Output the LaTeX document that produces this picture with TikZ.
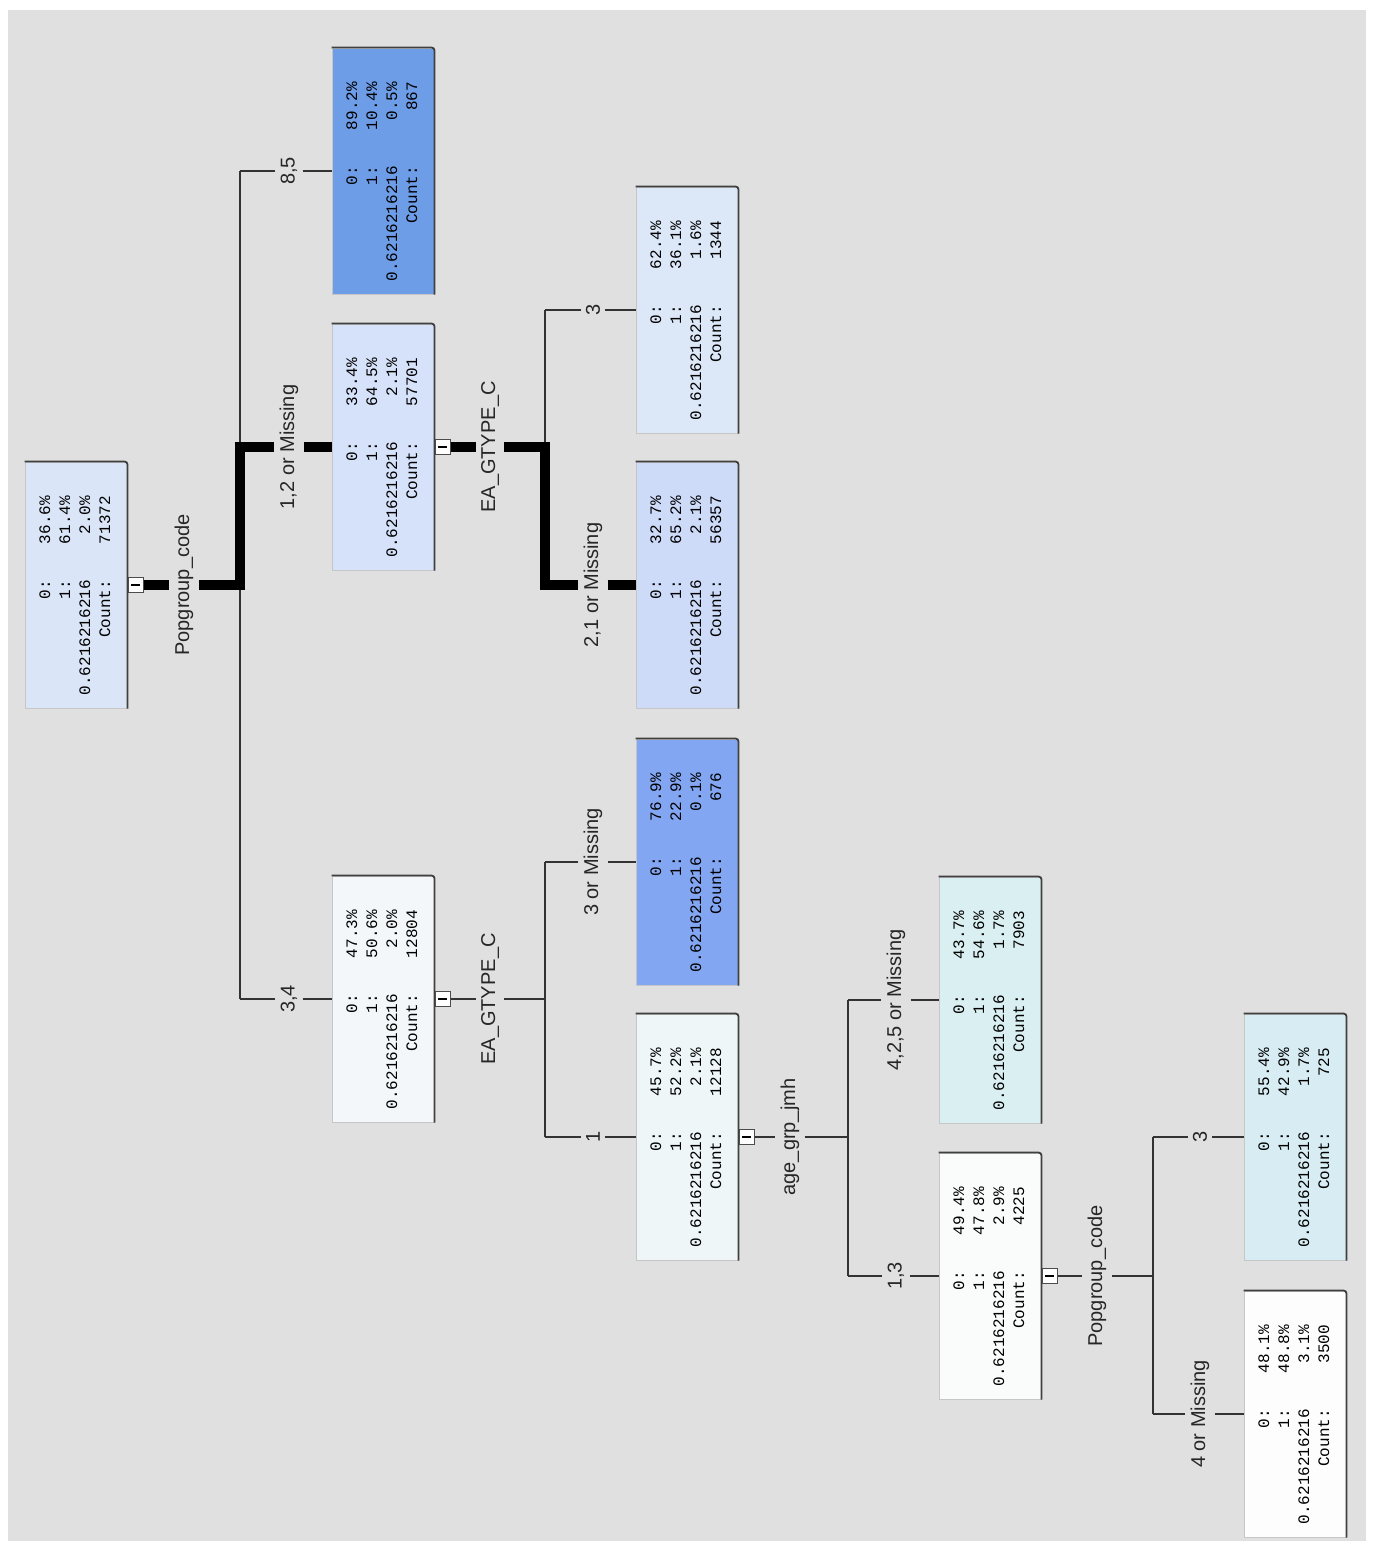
\documentclass[tikz,border=0pt]{standalone}
\usepackage{fontspec}
\setmainfont{Liberation Sans}
\setmonofont{Liberation Mono}
\usepackage{array}
\newcolumntype{R}[1]{>{\raggedleft\arraybackslash}p{#1}}
\definecolor{bg}{HTML}{E0E0E0}
\definecolor{cRoot}{HTML}{DAE5F7}
\definecolor{cA}{HTML}{6E9DE8}
\definecolor{cB}{HTML}{D6E2F9}
\definecolor{cC}{HTML}{F3F7F9}
\definecolor{cD}{HTML}{DCE7F8}
\definecolor{cE}{HTML}{CDDAF8}
\definecolor{cF}{HTML}{83A6F2}
\definecolor{cG}{HTML}{EEF6F7}
\definecolor{cH}{HTML}{DAEFF2}
\definecolor{cI}{HTML}{FAFCFC}
\definecolor{cJ}{HTML}{D7EDF3}
\definecolor{cK}{HTML}{FDFDFD}
\newcommand{\stattab}[4]{\fontsize{8}{10}\selectfont\ttfamily\begin{tabular}{@{}R{64pt}@{}R{42pt}@{\hspace{17pt}}}0:&#1\\1:&#2\\0.6216216216&#3\\Count:&#4\end{tabular}}
\tikzset{
  statbox/.style={rotate=90, draw=gray!45, line width=0.5pt, inner sep=0pt,
    minimum width=123pt, minimum height=51pt, fill=#1},
  expander/.style={draw=black!70, fill=white, minimum size=7.5pt, inner sep=0pt, line width=0.6pt},
  minusbar/.style={draw=black, line width=0.7pt},
  splitlab/.style={rotate=90, font=\fontsize{10}{12}\selectfont, inner sep=2.5pt, text=black!85},
  conn/.style={draw=black!80, line width=1pt},
  hot/.style={draw=black, line width=5pt},
  shade/.style={draw=black!75, line width=0.9pt, rounded corners=1.5pt}
}
\newcommand{\statnode}[8]{%
  \node[statbox=#4] (#1) at (#2,#3) {\stattab{#5}{#6}{#7}{#8}};
  \draw[shade] (#1.north east) -- (#1.south east) -- (#1.south west);}
\newcommand{\expnode}[2]{%
  \node[expander, anchor=west] (#1) at (#2.south) {};
  \draw[minusbar] ([xshift=1.7pt]#1.west) -- ([xshift=-1.7pt]#1.east);}
\begin{document}
\begin{tikzpicture}[x=0.5pt,y=-0.5pt]
\useasboundingbox (0,0) rectangle (1372,1547);
\fill[white] (0,0) rectangle (1372,1547);
\fill[bg] (8,10) rectangle (1366,1541);

% boxes
\statnode{root}{76}{585}{cRoot}{36.6\%}{61.4\%}{2.0\%}{71372}
\statnode{n85}{383}{171}{cA}{89.2\%}{10.4\%}{0.5\%}{867}
\statnode{n12}{383}{447}{cB}{33.4\%}{64.5\%}{2.1\%}{57701}
\statnode{n34}{383}{999}{cC}{47.3\%}{50.6\%}{2.0\%}{12804}
\statnode{n3a}{687}{310}{cD}{62.4\%}{36.1\%}{1.6\%}{1344}
\statnode{n21}{687}{585}{cE}{32.7\%}{65.2\%}{2.1\%}{56357}
\statnode{n3m}{687}{862}{cF}{76.9\%}{22.9\%}{0.1\%}{676}
\statnode{n1}{687}{1137}{cG}{45.7\%}{52.2\%}{2.1\%}{12128}
\statnode{n425}{990}{1000}{cH}{43.7\%}{54.6\%}{1.7\%}{7903}
\statnode{n13}{990}{1276}{cI}{49.4\%}{47.8\%}{2.9\%}{4225}
\statnode{n3b}{1295}{1137}{cJ}{55.4\%}{42.9\%}{1.7\%}{725}
\statnode{n4m}{1295}{1414}{cK}{48.1\%}{48.8\%}{3.1\%}{3500}

% expanders
\expnode{e0}{root}
\expnode{e12}{n12}
\expnode{e34}{n34}
\expnode{e1}{n1}
\expnode{e13}{n13}

% split labels
\node[splitlab] (s0) at (184,585) {Popgroup\_code};
\node[splitlab] (s12) at (490,447) {EA\_GTYPE\_C};
\node[splitlab] (s34) at (490,999) {EA\_GTYPE\_C};
\node[splitlab] (s1) at (790,1137) {age\_grp\_jmh};
\node[splitlab] (s13) at (1097,1276) {Popgroup\_code};

% branch labels
\node[splitlab] (l85) at (289,171) {8,5};
\node[splitlab] (l12) at (289,447) {1,2 or Missing};
\node[splitlab] (l34) at (289,999) {3,4};
\node[splitlab] (l3a) at (593,310) {3};
\node[splitlab] (l21) at (593,585) {2,1 or Missing};
\node[splitlab] (l3m) at (593,862) {3 or Missing};
\node[splitlab] (l1) at (593,1137) {1};
\node[splitlab] (l425) at (896,1000) {4,2,5 or Missing};
\node[splitlab] (l13) at (896,1276) {1,3};
\node[splitlab] (l3b) at (1200,1137) {3};
\node[splitlab] (l4m) at (1200,1414) {4 or Missing};

% bus coordinates
\coordinate (b0) at (240,585);
\coordinate (b0t) at (240,171);
\coordinate (b0b) at (240,999);
\coordinate (b12) at (545,447);
\coordinate (b12t) at (545,310);
\coordinate (b12b) at (545,585);
\coordinate (b34) at (545,999);
\coordinate (b34t) at (545,862);
\coordinate (b34b) at (545,1137);
\coordinate (b1) at (848,1137);
\coordinate (b1t) at (848,1000);
\coordinate (b1b) at (848,1276);
\coordinate (b13) at (1153,1276);
\coordinate (b13t) at (1153,1137);
\coordinate (b13b) at (1153,1414);

% thin connectors
\draw[conn] (b0t) -- (b0b);
\draw[conn] (b0t) -- (l85) -- (n85);
\draw[conn] (b0b) -- (l34) -- (n34);
\draw[conn] (b12t) -- (b12b);
\draw[conn] (b12t) -- (l3a) -- (n3a);
\draw[conn] (e34) -- (s34) -- (b34);
\draw[conn] (b34t) -- (b34b);
\draw[conn] (b34t) -- (l3m) -- (n3m);
\draw[conn] (b34b) -- (l1) -- (n1);
\draw[conn] (e1) -- (s1) -- (b1);
\draw[conn] (b1t) -- (b1b);
\draw[conn] (b1t) -- (l425) -- (n425);
\draw[conn] (b1b) -- (l13) -- (n13);
\draw[conn] (e13) -- (s13) -- (b13);
\draw[conn] (b13t) -- (b13b);
\draw[conn] (b13t) -- (l3b) -- (n3b);
\draw[conn] (b13b) -- (l4m) -- (n4m);

% highlighted path
\draw[hot] (e0) -- (s0);
\draw[hot] (s0) -- (b0) |- (l12);
\draw[hot] (l12) -- (n12);
\draw[hot] (e12) -- (s12);
\draw[hot] (s12) -- (b12) |- (l21);
\draw[hot] (l21) -- (n21);
\end{tikzpicture}
\end{document}
